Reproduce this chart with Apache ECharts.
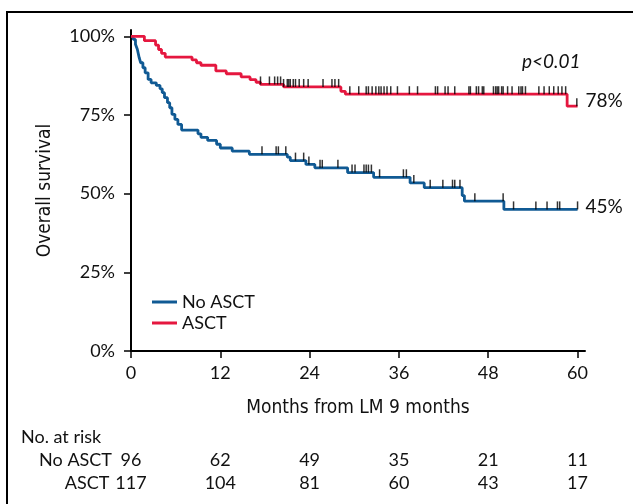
<!DOCTYPE html>
<html><head><meta charset="utf-8">
<script src="https://cdn.jsdelivr.net/npm/echarts@6/dist/echarts.min.js"></script>
<style>html,body{margin:0;padding:0;background:#fff}#c{width:633px;height:504px}</style>
</head><body><div id="c"></div>
<script>
// ---- data ----
const tickVals = [0, 12, 24, 36, 48, 60];
const yTickVals = [0, 25, 50, 75, 100];
// ASCT curve (month of step, survival % after step)
const asctT = [0,1.8,3.3,3.7,4.1,4.6,8.2,8.8,9.4,11.4,12.8,14.8,16.0,16.8,17.4,20.5,28.2,28.8,58.6,60];
const asctS = [100,98.6,97.2,95.8,94.6,93.4,92.5,91.6,90.8,89.0,88.1,87.1,86.2,85.4,84.7,83.9,82.5,81.6,77.8,77.8];
// No ASCT curve
const noT = [0,0.3,0.6,0.85,1.1,1.3,1.6,1.9,2.3,2.7,3.4,3.9,4.2,4.5,4.9,5.2,5.5,5.9,6.3,6.8,9.0,9.4,10.3,11.5,12.0,13.6,15.9,21.0,21.4,23.5,24.7,29.1,32.6,37.5,39.4,44.5,44.8,50.1,60];
const noS = [100,99.0,97.5,95.9,93.2,91.6,90.0,88.4,86.3,85.2,84.4,83.3,82.1,80.5,78.9,77.3,75.2,73.6,72.0,70.2,69.0,67.9,66.9,65.7,64.5,63.5,62.5,61.6,60.5,59.3,58.2,56.7,55.2,53.4,51.9,49.4,47.6,45.0,45.0];
// censor marks (months)
const asctCens = [17.4,18.6,19.3,19.7,20.1,20.5,21.0,21.2,21.4,21.8,22.1,22.6,23.2,23.8,25.8,27.0,27.4,27.9,29.4,30.6,31.6,31.9,32.4,32.9,33.3,33.6,34.0,34.4,34.9,35.8,37.4,38.5,40.9,41.2,42.2,42.6,43.5,45.4,45.6,46.4,46.7,47.2,47.4,48.7,49.0,49.2,49.4,49.8,50.0,50.6,51.2,52.1,52.4,52.6,53.0,54.8,55.5,56.2,56.8,57.4,57.9,58.4,59.9];
const noCens = [17.6,19.5,19.8,20.8,22.1,23.2,23.9,25.4,25.7,27.8,29.7,30.1,31.3,31.6,31.9,32.3,33.4,36.6,37.0,38.0,40.2,41.9,43.2,43.5,44.2,46.2,50.0,51.4,54.4,55.9,57.3,57.6,60.0];
// numbers at risk
const riskNo = [96, 62, 49, 35, 21, 11];
const riskAsct = [117, 104, 81, 60, 43, 17];
const endAsct = '78%';
const endNo = '45%';

// ---- build ----
const FONT = "Lato, 'Noto Sans', sans-serif";
const COND = "'Liberation Sans Narrow', 'DejaVu Sans Condensed', Lato, sans-serif";
const TXT = '#111';
const BLUE = '#105a94';
const RED = '#e5173f';

function pairs(T, S) { return T.map((t, i) => [t, S[i]]); }
function survAt(T, S, t) { let v = S[0]; for (let i = 0; i < T.length; i++) { if (T[i] <= t) v = S[i]; } return v; }
function cens(C, T, S) { return C.map(t => [t, survAt(T, S, t)]); }

function riskAxis(name, vals, offset) {
  return {
    type: 'value', min: 0, max: 61, gridIndex: 0, position: 'bottom', offset: offset,
    name: name, nameLocation: 'start', nameGap: 19,
    nameTextStyle: { fontFamily: FONT, fontSize: 18, color: TXT, verticalAlign: 'middle', align: 'right' },
    axisLine: { show: false }, axisTick: { show: false }, splitLine: { show: false },
    axisLabel: { customValues: tickVals, margin: 0, verticalAlign: 'middle', fontFamily: FONT, fontSize: 18, color: TXT,
      formatter: v => String(vals[tickVals.indexOf(v)]) }
  };
}

const chart = echarts.init(document.getElementById('c'), null, { renderer: 'canvas' });
chart.setOption({
  animation: false,
  backgroundColor: '#fff',
  grid: { left: 131, right: 48, top: 30, bottom: 153, containLabel: false },
  legend: {
    data: ['No ASCT', 'ASCT'], orient: 'vertical', left: 147, top: 288, itemGap: 3,
    icon: 'rect', itemWidth: 25, itemHeight: 3,
    textStyle: { fontFamily: FONT, fontSize: 18, color: TXT, lineHeight: 18 }
  },
  xAxis: [
    {
      type: 'value', min: 0, max: 61, gridIndex: 0,
      name: 'Months from LM 9 months', nameLocation: 'middle', nameGap: 57,
      nameTextStyle: { fontFamily: COND, fontSize: 19, color: TXT, verticalAlign: 'middle' },
      axisLine: { show: true, lineStyle: { color: '#000', width: 2 } },
      axisTick: { show: true, customValues: tickVals, length: 7, lineStyle: { color: '#000', width: 1.5 } },
      axisLabel: { customValues: tickVals, margin: 13, fontFamily: FONT, fontSize: 18, color: TXT },
      splitLine: { show: false }
    },
    riskAxis('No ASCT', riskNo, 109),
    riskAxis('ASCT', riskAsct, 132)
  ],
  yAxis: {
    type: 'value', min: 0, max: 102,
    name: 'Overall survival', nameLocation: 'middle', nameGap: 86,
    nameTextStyle: { fontFamily: COND, fontSize: 19, color: TXT, verticalAlign: 'middle' },
    axisLine: { show: true, lineStyle: { color: '#000', width: 2 } },
    axisTick: { show: true, customValues: yTickVals, length: 7, lineStyle: { color: '#000', width: 1.5 } },
    axisLabel: { customValues: yTickVals, margin: 16, fontFamily: FONT, fontSize: 18, color: TXT, formatter: v => v + '%' },
    splitLine: { show: false }
  },
  graphic: [
    { type: 'rect', silent: true, shape: { x: 7, y: 12, width: 700, height: 600 }, style: { fill: 'none', stroke: '#000', lineWidth: 2 } },
    { type: 'text', left: 21, top: 428, style: { text: 'No. at risk', fontFamily: FONT, fontSize: 18, fill: TXT } },
    { type: 'text', left: 522, top: 52, style: { text: 'p<0.01', fontFamily: FONT, fontSize: 19, fontStyle: 'italic', fill: TXT } }
  ],
  series: [
    {
      name: 'No ASCT', type: 'line', step: 'end', data: pairs(noT, noS), showSymbol: false, symbol: 'none',
      color: BLUE, lineStyle: { color: BLUE, width: 2.8 }, z: 2,
      endLabel: { show: true, formatter: endNo, distance: 8, offset: [0, -3], fontFamily: FONT, fontSize: 19, color: TXT }
    },
    {
      name: 'ASCT', type: 'line', step: 'end', data: pairs(asctT, asctS), showSymbol: false, symbol: 'none',
      color: RED, lineStyle: { color: RED, width: 2.8 }, z: 2,
      endLabel: { show: true, formatter: endAsct, distance: 8, offset: [0, -5], fontFamily: FONT, fontSize: 19, color: TXT }
    },
    {
      name: 'cens-no', type: 'scatter', data: cens(noCens, noT, noS), symbol: 'rect', symbolSize: [1.5, 8], symbolOffset: [0, -4],
      itemStyle: { color: '#000' }, silent: true, z: 3
    },
    {
      name: 'cens-asct', type: 'scatter', data: cens(asctCens, asctT, asctS), symbol: 'rect', symbolSize: [1.5, 8], symbolOffset: [0, -4],
      itemStyle: { color: '#000' }, silent: true, z: 3
    }
  ]
});
</script></body></html>
